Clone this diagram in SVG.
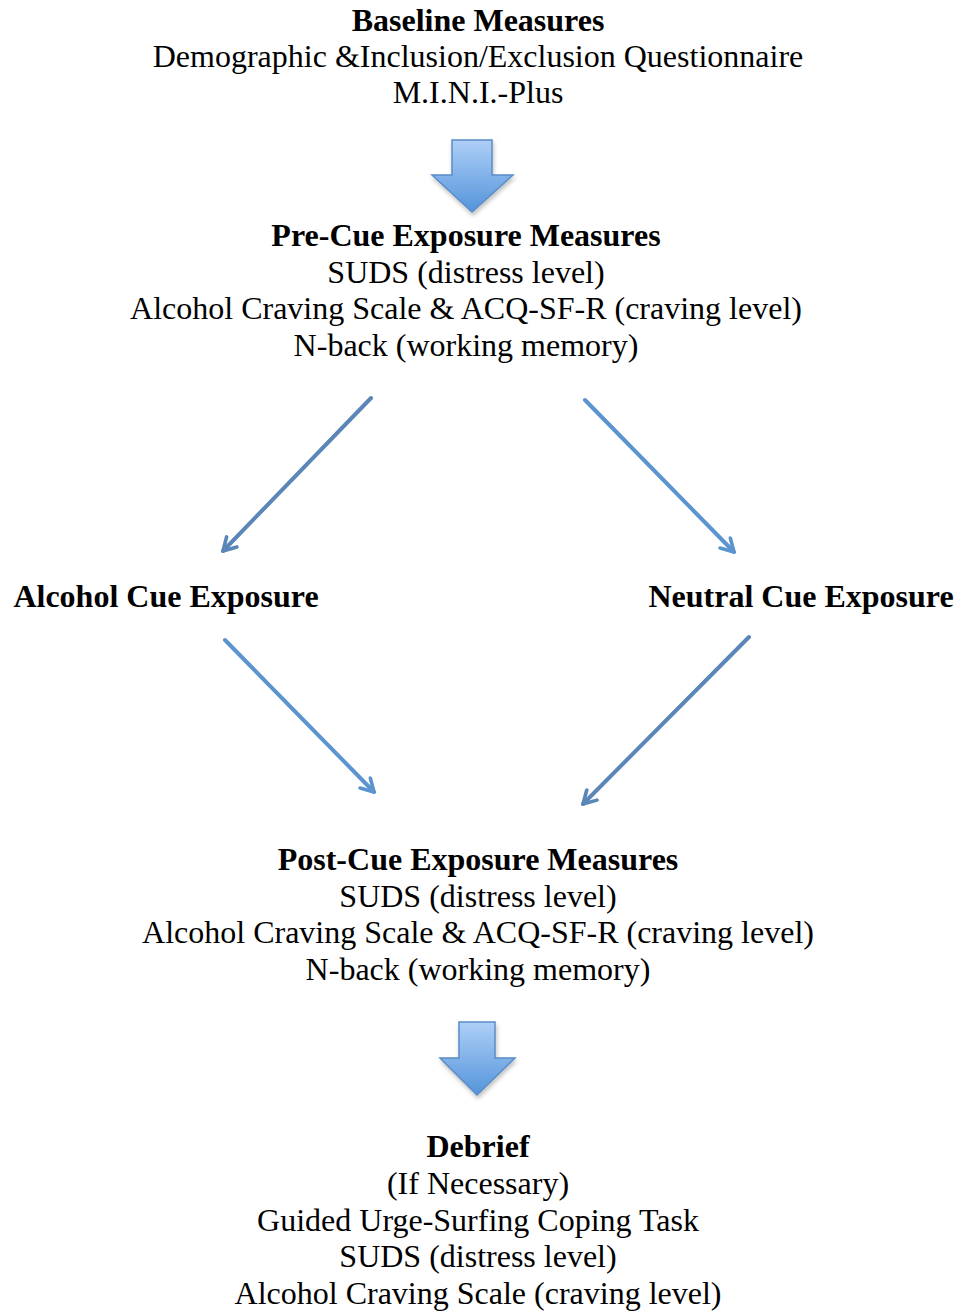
<svg xmlns="http://www.w3.org/2000/svg" width="960" height="1313" viewBox="0 0 960 1313">
<style>
text{font-family:"Liberation Serif","Times New Roman",serif;font-size:32px;fill:#000;text-anchor:middle}
.b{font-weight:bold}
.ln{stroke:#5A87B8;stroke-width:4;fill:none;stroke-linecap:round}
.lt{stroke:#5B94CF}
.blk{fill:url(#g);stroke:#5B8CC6;stroke-width:1.5}
</style>
<defs>
<linearGradient id="g" x1="0" y1="0" x2="0" y2="1">
<stop offset="0" stop-color="#AECFF7"/>
<stop offset="1" stop-color="#5494DA"/>
</linearGradient>
<marker id="ah" viewBox="0 0 10 10" refX="8" refY="5" markerWidth="4.5" markerHeight="4.5" orient="auto" markerUnits="strokeWidth">
<path d="M1,1 L8,5 L1,9" fill="none" stroke="#5A87B8" stroke-width="2" stroke-linecap="round" stroke-linejoin="round"/>
</marker>
<marker id="ah2" viewBox="0 0 10 10" refX="8" refY="5" markerWidth="4.5" markerHeight="4.5" orient="auto" markerUnits="strokeWidth">
<path d="M1,1 L8,5 L1,9" fill="none" stroke="#5B94CF" stroke-width="2" stroke-linecap="round" stroke-linejoin="round"/>
</marker>
<filter id="sh" x="-20%" y="-20%" width="140%" height="140%">
<feDropShadow dx="1" dy="3" stdDeviation="2" flood-color="#000" flood-opacity="0.25"/>
</filter>
</defs>
<g id="baseline">
<text x="478" y="31" class="b">Baseline Measures</text>
<text x="478" y="67">Demographic &amp;Inclusion/Exclusion Questionnaire</text>
<text x="478" y="103">M.I.N.I.-Plus</text>
</g>
<g id="precue">
<text x="466" y="246" class="b">Pre-Cue Exposure Measures</text>
<text x="466" y="283">SUDS (distress level)</text>
<text x="466" y="319">Alcohol Craving Scale &amp; ACQ-SF-R (craving level)</text>
<text x="466" y="356">N-back (working memory)</text>
</g>
<g id="alcohol">
<text x="166" y="607" class="b">Alcohol Cue Exposure</text>
</g>
<g id="neutral">
<text x="801" y="607" class="b">Neutral Cue Exposure</text>
</g>
<g id="postcue">
<text x="478" y="870" class="b">Post-Cue Exposure Measures</text>
<text x="478" y="907">SUDS (distress level)</text>
<text x="478" y="943">Alcohol Craving Scale &amp; ACQ-SF-R (craving level)</text>
<text x="478" y="980">N-back (working memory)</text>
</g>
<g id="debrief">
<text x="478" y="1157" class="b">Debrief</text>
<text x="478" y="1194">(If Necessary)</text>
<text x="478" y="1231">Guided Urge-Surfing Coping Task</text>
<text x="478" y="1267">SUDS (distress level)</text>
<text x="478" y="1304">Alcohol Craving Scale (craving level)</text>
</g>
<g id="connectors">
<path class="blk" filter="url(#sh)" d="M452,140 H492 V175 H513 L472,212 L432,175 H452 Z"/>
<path class="blk" filter="url(#sh)" d="M459,1022 H495 V1058 H515 L477,1095 L440,1058 H459 Z"/>
<line class="ln" x1="371" y1="398" x2="223" y2="551" marker-end="url(#ah)"/>
<line class="ln lt" x1="585" y1="400" x2="734" y2="552" marker-end="url(#ah2)"/>
<line class="ln lt" x1="225" y1="640" x2="374" y2="792" marker-end="url(#ah2)"/>
<line class="ln" x1="749" y1="637" x2="583" y2="804" marker-end="url(#ah)"/>
</g>
</svg>
